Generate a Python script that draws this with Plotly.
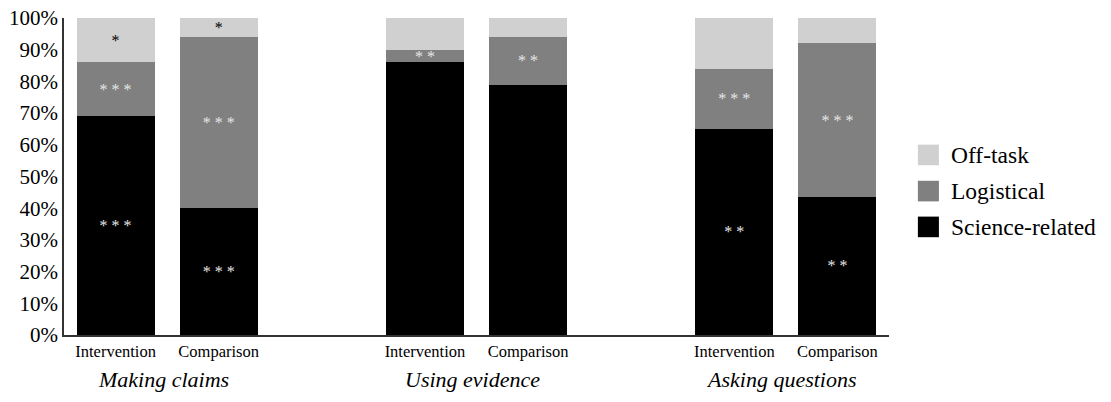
import plotly.graph_objects as go

# Groups of discourse moves and the two conditions compared within each
groups = ["Making claims", "Using evidence", "Asking questions"]
conditions = ["Intervention", "Comparison"]

# Share of talk (%) per bar, ordered group by group, Intervention then Comparison
science_related = [69, 40, 86, 79, 65, 43.6]
logistical = [17, 54, 4, 15, 19, 48.4]
off_task = [14, 6, 10, 6, 16, 8]

# Significance markers printed inside each segment
science_sig = ["***", "***", "", "", "**", "**"]
logistical_sig = ["***", "***", "**", "**", "***", "***"]
off_task_sig = ["*", "*", "", "", "", ""]

series_names = ["Science-related", "Logistical", "Off-task"]
series_colors = ["#000000", "#808080", "#d0d0d1"]
text_colors = ["#e6e6e6", "#e6e6e6", "#000000"]

FONT = "Liberation Serif"

# Bar slots: two bars per group with an empty slot between groups
positions = []
labels = []
for gi, _ in enumerate(groups):
    for ci, cond in enumerate(conditions):
        positions.append(gi * 3 + ci)
        labels.append(cond)


def spaced(marks):
    return [" ".join(m) for m in marks]


fig = go.Figure()
for name, vals, sig, color, tcolor in zip(
    series_names,
    [science_related, logistical, off_task],
    [science_sig, logistical_sig, off_task_sig],
    series_colors,
    text_colors,
):
    fig.add_trace(
        go.Bar(
            x=positions,
            y=vals,
            name=name,
            width=0.757,
            marker=dict(color=color, line=dict(width=0)),
            text=spaced(sig),
            textposition="inside",
            insidetextanchor="middle",
            textangle=0,
            constraintext="none",
            textfont=dict(family=FONT, size=16, color=tcolor),
            hoverinfo="skip",
        )
    )

# Group titles under the category labels
annotations = []
for gi, g in enumerate(groups):
    annotations.append(
        dict(
            x=gi * 3 + 0.5,
            y=-0.141,
            xref="x",
            yref="paper",
            text=f"<i>{g}</i>",
            showarrow=False,
            xanchor="center",
            yanchor="middle",
            xshift=-4,
            font=dict(family=FONT, size=22, color="#000000"),
        )
    )

# Legend drawn as swatches with labels, Off-task on top
shapes = []
legend_rows = [0.568, 0.454, 0.341]
for (name, color), yc in zip(
    list(zip(series_names, series_colors))[::-1], legend_rows
):
    shapes.append(
        dict(
            type="rect",
            xref="paper",
            yref="paper",
            x0=1.035,
            x1=1.0605,
            y0=yc - 0.0325,
            y1=yc + 0.0325,
            fillcolor=color,
            line=dict(width=0),
        )
    )
    annotations.append(
        dict(
            x=1.073,
            y=yc,
            xref="paper",
            yref="paper",
            text=name,
            showarrow=False,
            xanchor="left",
            yanchor="middle",
            font=dict(family=FONT, size=23.5, color="#000000"),
        )
    )

fig.update_layout(
    width=1111,
    height=402,
    margin=dict(l=64, r=222, t=18, b=67),
    barmode="stack",
    showlegend=False,
    plot_bgcolor="white",
    paper_bgcolor="white",
    font=dict(family=FONT, color="#000000"),
    annotations=annotations,
    shapes=shapes,
)

fig.update_xaxes(
    range=[-0.5, 7.5],
    tickvals=positions,
    ticktext=labels,
    tickfont=dict(family=FONT, size=16.5, color="#000000"),
    showline=True,
    linecolor="#333333",
    linewidth=1.5,
    ticks="",
    showgrid=False,
    zeroline=False,
    automargin=False,
)

fig.update_yaxes(
    range=[0, 100],
    tickvals=list(range(0, 101, 10)),
    ticktext=[f"{v}%" for v in range(0, 101, 10)],
    tickfont=dict(family=FONT, size=21, color="#000000"),
    showline=True,
    linecolor="#333333",
    linewidth=1.5,
    ticks="",
    showgrid=False,
    zeroline=False,
    automargin=False,
)

fig.write_html("out.html")
